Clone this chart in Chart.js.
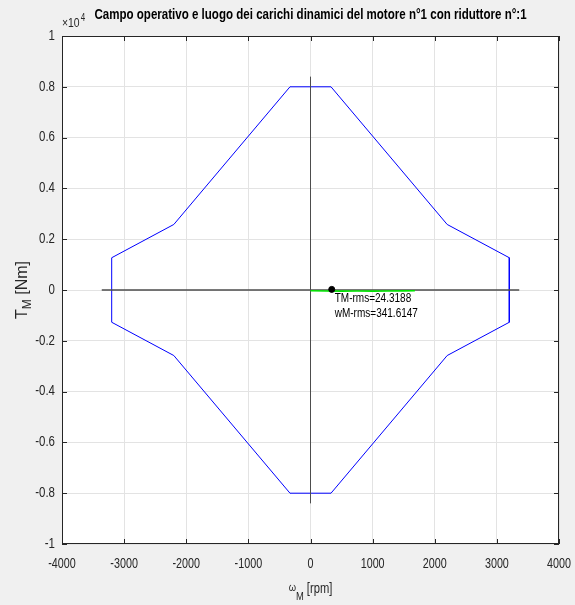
<!DOCTYPE html>
<html>
<head>
<meta charset="utf-8">
<script src="https://cdn.jsdelivr.net/npm/chart.js@4.4.1/dist/chart.umd.min.js"></script>
<style>
  html, body { margin: 0; padding: 0; background: #f0f0f0; }
  canvas { display: block; }
</style>
</head>
<body>
<canvas id="c" width="575" height="605"></canvas>
<script>
// Operating envelope of the motor (speed in rpm, torque in Nm)
const envelopeSpeed  = [-330, 330, 2200, 3200, 3200, 2200, 330, -330, -2200, -3200, -3200, -2200, -330];
const envelopeTorque = [8000, 8000, 2580, 1270, -1270, -2580, -8000, -8000, -2580, -1270, 1270, 2580, 8000];

// Reference axes through the origin
const hAxisSpeed  = [-3360, 3360];
const hAxisTorque = [0, 0];
const vAxisSpeed  = [0, 0];
const vAxisTorque = [-8400, 8400];

// Dynamic load locus
const loadSpeed  = [0, 250, 500, 750, 1000, 1250, 1500, 1680];
const loadTorque = [-30, -40, -45, -40, -45, -40, -35, -30];

// RMS operating point
const rmsSpeed  = 341.6147;
const rmsTorque = 24.3188;

// Tick values
const xTicks = [-4000, -3000, -2000, -1000, 0, 1000, 2000, 3000, 4000];
const yTicks = [-10000, -8000, -6000, -4000, -2000, 0, 2000, 4000, 6000, 8000, 10000];
const yExponent = 4;

const titleText = 'Campo operativo e luogo dei carichi dinamici del motore n°1 con riduttore n°:1';

const FONT = '"Liberation Sans", Arial, sans-serif';
const AXIS_COLOR = '#262626';
const SQUEEZE = 0.77;   // horizontal compression of the lettering

function pts(xs, ys) { return xs.map((x, i) => ({ x: x, y: ys[i] })); }

// text drawn with a horizontal squeeze factor
function squeezed(ctx, text, x, y, font, align, sx) {
  ctx.save();
  ctx.font = font;
  ctx.translate(x, y);
  ctx.scale(sx, 1);
  ctx.textAlign = align;
  ctx.fillText(text, 0, 0);
  ctx.restore();
}
function squeezedWidth(ctx, text, font, sx) {
  ctx.save();
  ctx.font = font;
  const w = ctx.measureText(text).width * sx;
  ctx.restore();
  return w;
}

const decor = {
  id: 'decor',
  beforeDraw(chart) {
    const { ctx, chartArea: a } = chart;
    ctx.save();
    ctx.fillStyle = '#f0f0f0';
    ctx.fillRect(0, 0, chart.width, chart.height);
    ctx.fillStyle = '#ffffff';
    ctx.fillRect(a.left, a.top, a.right - a.left, a.bottom - a.top);
    ctx.restore();
  },
  afterDraw(chart) {
    const { ctx, chartArea: a, scales } = chart;
    const xs = scales.x, ys = scales.y;
    ctx.save();
    // frame
    ctx.strokeStyle = AXIS_COLOR;
    ctx.lineWidth = 1;
    ctx.strokeRect(Math.round(a.left) + 0.5, Math.round(a.top) + 0.5,
                   Math.round(a.right - a.left) - 1, Math.round(a.bottom - a.top) - 1);
    // inward tick marks
    const tl = 5;
    ctx.beginPath();
    xs.ticks.forEach(t => {
      const px = Math.round(xs.getPixelForValue(t.value)) + 0.5;
      ctx.moveTo(px, a.bottom); ctx.lineTo(px, a.bottom - tl);
      ctx.moveTo(px, a.top); ctx.lineTo(px, a.top + tl);
    });
    ys.ticks.forEach(t => {
      const py = Math.round(ys.getPixelForValue(t.value)) + 0.5;
      ctx.moveTo(a.left, py); ctx.lineTo(a.left + tl, py);
      ctx.moveTo(a.right, py); ctx.lineTo(a.right - tl, py);
    });
    ctx.stroke();

    // tick labels, placed by the scales
    ctx.fillStyle = AXIS_COLOR;
    ctx.textBaseline = 'middle';
    const tickFont = '14px ' + FONT;
    xs.ticks.forEach(t => {
      squeezed(ctx, t.label, xs.getPixelForValue(t.value), a.bottom + 20, tickFont, 'center', SQUEEZE);
    });
    ys.ticks.forEach(t => {
      squeezed(ctx, t.label, a.left - 7, ys.getPixelForValue(t.value), tickFont, 'right', 0.82);
    });

    // title
    ctx.fillStyle = '#000';
    ctx.textBaseline = 'middle';
    squeezed(ctx, titleText, (a.left + a.right) / 2, 15, 'bold 15px ' + FONT, 'center', SQUEEZE);

    // exponent of the y axis
    ctx.fillStyle = AXIS_COLOR;
    ctx.textBaseline = 'alphabetic';
    squeezed(ctx, '×10', a.left, 27, '13px ' + FONT, 'left', 0.8);
    const w10 = squeezedWidth(ctx, '×10', '13px ' + FONT, 0.8);
    squeezed(ctx, String(yExponent), a.left + w10 + 1, 21, '10px ' + FONT, 'left', 0.8);

    // x axis title: ω_M [rpm]
    const cx = (a.left + a.right) / 2;
    const fOm = '11px ' + FONT, fSub = '11px ' + FONT, fRpm = '14px ' + FONT;
    const wOm = squeezedWidth(ctx, 'ω', fOm, 0.85);
    const wM = squeezedWidth(ctx, 'M', fSub, 0.85);
    const wRpm = squeezedWidth(ctx, ' [rpm]', fRpm, 0.8);
    const x0 = cx - (wOm + wM + wRpm) / 2;
    squeezed(ctx, 'ω', x0, 591, fOm, 'left', 0.85);
    squeezed(ctx, 'M', x0 + wOm, 600, fSub, 'left', 0.85);
    squeezed(ctx, ' [rpm]', x0 + wOm + wM, 593, fRpm, 'left', 0.8);

    // y axis title: T_M [Nm]
    ctx.translate(27, (a.top + a.bottom) / 2);
    ctx.rotate(-Math.PI / 2);
    ctx.textAlign = 'left';
    ctx.font = '16px ' + FONT;
    const wT = ctx.measureText('T').width;
    const wNm = ctx.measureText(' [Nm]').width;
    ctx.font = '12px ' + FONT;
    const wSub = ctx.measureText('M').width;
    const y0 = -(wT + wSub + wNm) / 2;
    ctx.font = '16px ' + FONT;
    ctx.fillText('T', y0, 0);
    ctx.font = '12px ' + FONT;
    ctx.fillText('M', y0 + wT, 4);
    ctx.font = '16px ' + FONT;
    ctx.fillText(' [Nm]', y0 + wT + wSub, 0);
    ctx.restore();

    // RMS annotation next to the operating point
    ctx.save();
    const px = xs.getPixelForValue(rmsSpeed);
    const py = ys.getPixelForValue(rmsTorque);
    ctx.fillStyle = '#000';
    ctx.textBaseline = 'middle';
    squeezed(ctx, 'TM-rms=' + rmsTorque.toFixed(4), px + 3, py + 9, '13px ' + FONT, 'left', SQUEEZE);
    squeezed(ctx, 'wM-rms=' + rmsSpeed.toFixed(4), px + 3, py + 24, '13px ' + FONT, 'left', SQUEEZE);
    ctx.restore();
  }
};

new Chart(document.getElementById('c'), {
  type: 'scatter',
  data: {
    datasets: [
      { data: [{ x: rmsSpeed, y: rmsTorque }], showLine: false, pointRadius: 3,
        backgroundColor: '#000', borderColor: '#000', order: 0 },
      { data: pts(loadSpeed, loadTorque), showLine: true, borderColor: '#00e600',
        borderWidth: 1.6, pointRadius: 0, order: 1 },
      { data: pts(hAxisSpeed, hAxisTorque), showLine: true, borderColor: '#4d4d4d',
        borderWidth: 1.3, pointRadius: 0, order: 2 },
      { data: pts(vAxisSpeed, vAxisTorque), showLine: true, borderColor: '#4d4d4d',
        borderWidth: 1, pointRadius: 0, order: 2 },
      { data: pts(envelopeSpeed, envelopeTorque), showLine: true, borderColor: '#0000ff',
        borderWidth: 1, pointRadius: 0, order: 3 }
    ]
  },
  options: {
    responsive: false,
    animation: false,
    layout: { padding: { left: 0, right: 16, top: 36, bottom: 0 } },
    plugins: { legend: { display: false }, tooltip: { enabled: false }, title: { display: false } },
    scales: {
      x: {
        type: 'linear', min: -4000, max: 4000,
        afterBuildTicks: s => { s.ticks = xTicks.map(v => ({ value: v })); },
        afterFit: s => { s.height = 61; s.paddingLeft = 0; s.paddingRight = 0; },
        border: { display: false },
        grid: { color: '#e3e3e3', drawTicks: false },
        ticks: { display: false, callback: v => String(v) }
      },
      y: {
        type: 'linear', min: -10000, max: 10000,
        afterBuildTicks: s => { s.ticks = yTicks.map(v => ({ value: v })); },
        afterFit: s => { s.width = 62; s.paddingTop = 0; s.paddingBottom = 0; },
        border: { display: false },
        grid: { color: '#e3e3e3', drawTicks: false },
        ticks: { display: false,
                 callback: v => String(Math.round(v / Math.pow(10, yExponent) * 10) / 10) }
      }
    }
  },
  plugins: [decor]
});
</script>
</body>
</html>
